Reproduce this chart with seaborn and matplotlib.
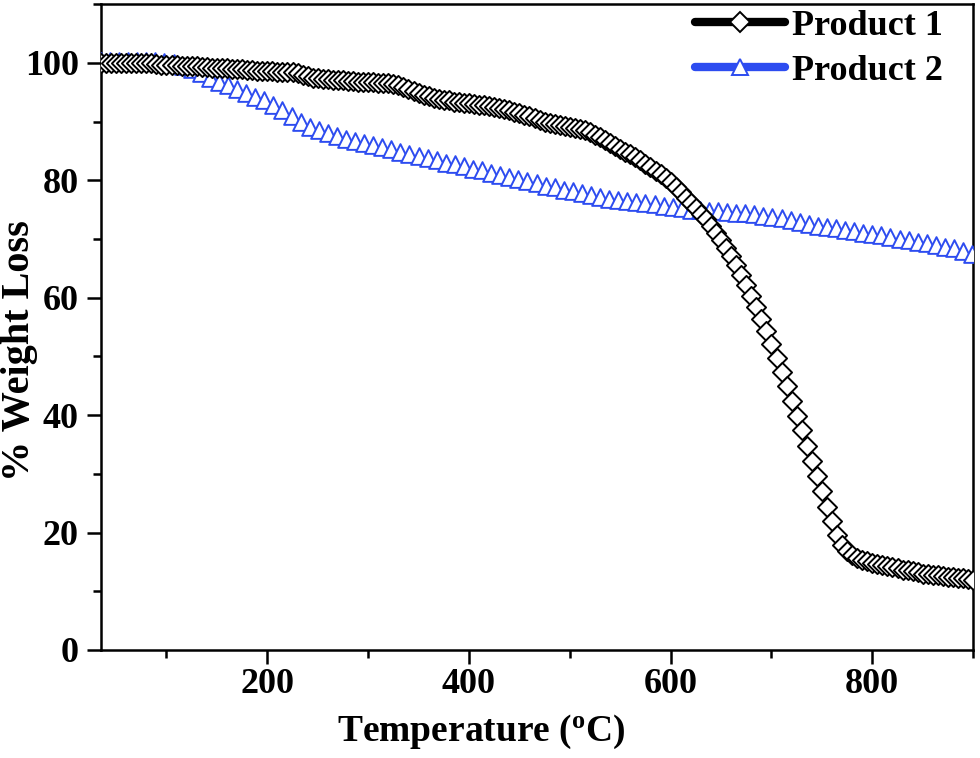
import numpy as np
import pandas as pd
import matplotlib
matplotlib.use("Agg")
import matplotlib.pyplot as plt
from matplotlib.lines import Line2D
from matplotlib.ticker import MultipleLocator
import seaborn as sns

# ---------------- data ----------------
temp1 = list(range(35, 901, 5))
weight1 = [
    100.0, 100.0, 100.0, 100.0, 100.0, 100.0, 100.0, 100.0, 100.0, 99.9, 99.9, 99.8, 99.7, 99.7,
    99.6, 99.6, 99.5, 99.5, 99.4, 99.4, 99.3, 99.3, 99.2, 99.2, 99.1, 99.1, 99.0, 98.9, 98.9, 98.8, 98.8, 98.7, 98.7, 98.6,
    98.6, 98.5, 98.5, 98.4, 98.4, 98.2, 97.9, 97.7, 97.5, 97.4, 97.3, 97.2, 97.1, 97.0, 97.0, 96.9, 96.9, 96.8, 96.8, 96.7,
    96.7, 96.6, 96.6, 96.5, 96.4, 96.2, 95.9, 95.6, 95.2, 94.9, 94.6, 94.3, 94.1, 93.9, 93.7, 93.6, 93.4, 93.3, 93.2, 93.1,
    93.0, 92.9, 92.8, 92.6, 92.5, 92.3, 92.1, 91.9, 91.7, 91.5, 91.2, 90.9, 90.6, 90.3, 90.0, 89.8, 89.6, 89.4, 89.2, 89.1,
    88.9, 88.7, 88.5, 88.2, 87.8, 87.4, 86.9, 86.4, 85.9, 85.4, 84.9, 84.4, 83.9, 83.4, 82.8, 82.2, 81.6, 81.0, 80.4, 79.7,
    78.9, 78.0, 77.0, 76.1, 75.2, 74.3, 73.4, 72.3, 71.1, 69.8, 68.5, 67.1, 65.6, 63.9, 62.1, 60.3, 58.4, 56.4, 54.4, 52.2,
    49.8, 47.3, 44.9, 42.4, 39.9, 37.4, 34.8, 32.2, 29.6, 27.0, 24.4, 21.9, 19.6, 17.9, 16.9, 16.2, 15.7, 15.3, 15.1, 14.9,
    14.7, 14.5, 14.3, 14.1, 13.9, 13.7, 13.6, 13.4, 13.2, 13.0, 12.9, 12.8, 12.7, 12.6, 12.5, 12.4, 12.3, 12.2, 12.1, 12.0,
]

temp2 = list(range(35, 900, 9))
weight2 = [
    100.4, 100.4, 100.4, 100.4, 100.4, 100.4, 100.3, 100.2, 99.9, 99.5,
    98.9, 98.2, 97.5, 96.8, 96.2, 95.5, 94.9, 94.2, 93.6, 92.9,
    92.0, 91.0, 90.0, 89.1, 88.5, 88.0, 87.5, 87.1, 86.7, 86.3,
    86.0, 85.7, 85.3, 84.9, 84.5, 84.2, 83.8, 83.4, 83.0, 82.7,
    82.4, 82.0, 81.7, 81.3, 80.9, 80.6, 80.2, 79.8, 79.5, 79.1,
    78.8, 78.4, 78.1, 77.8, 77.5, 77.2, 76.9, 76.7, 76.5, 76.3,
    76.1, 75.9, 75.7, 75.4, 75.2, 75.0, 74.9, 74.8, 74.7, 74.6,
    74.5, 74.4, 74.2, 74.0, 73.8, 73.5, 73.2, 72.9, 72.6, 72.3,
    72.0, 71.8, 71.5, 71.3, 71.0, 70.8, 70.6, 70.3, 70.0, 69.8,
    69.5, 69.3, 69.0, 68.7, 68.4, 68.0, 67.5,
]

series_names = ["Product 1", "Product 2"]
x_ticks = [200, 400, 600, 800]
y_ticks = [0, 20, 40, 60, 80, 100]

assert len(temp1) == len(weight1)
assert len(temp2) == len(weight2)

# ---------------- style ----------------
sns.set_style("ticks")
plt.rcParams["font.family"] = ["Liberation Serif", "DejaVu Serif"]
plt.rcParams["font.weight"] = "bold"
plt.rcParams["mathtext.fontset"] = "custom"
plt.rcParams["mathtext.rm"] = "Liberation Serif:bold"
plt.rcParams["mathtext.bf"] = "Liberation Serif:bold"
plt.rcParams["mathtext.it"] = "Liberation Serif:bold:italic"
for key in ["text.color", "axes.labelcolor", "xtick.color", "ytick.color", "axes.edgecolor"]:
    plt.rcParams[key] = "black"

BLACK = "#000000"
BLUE = "#2d4cf0"

fig = plt.figure(figsize=(9.8, 7.58), dpi=100)
ax = fig.add_axes([0.103, 0.1425, 0.890, 0.852])

df1 = pd.DataFrame({"T": temp1, "W": weight1})
df2 = pd.DataFrame({"T": temp2, "W": weight2})

sns.scatterplot(data=df2, x="T", y="W", ax=ax, marker="^", s=145,
                facecolor="white", edgecolor=BLUE, linewidth=1.4, zorder=3)
sns.scatterplot(data=df1, x="T", y="W", ax=ax, marker="D", s=95,
                facecolor="white", edgecolor=BLACK, linewidth=1.4, zorder=4)

ax.set_xlim(35, 900)
ax.set_ylim(0, 110)
ax.set_xticks(x_ticks)
ax.set_yticks(y_ticks)
ax.xaxis.set_minor_locator(MultipleLocator(100))
ax.yaxis.set_minor_locator(MultipleLocator(10))

ax.tick_params(axis="both", which="major", direction="out", length=10, width=1.8,
               labelsize=26, labelcolor="black")
ax.tick_params(axis="x", which="major", pad=3)
ax.tick_params(axis="y", which="major", pad=6)
ax.tick_params(axis="both", which="minor", direction="out", length=6, width=1.8)
ax.tick_params(top=False, right=False, which="both")
for lab in ax.get_xticklabels() + ax.get_yticklabels():
    lab.set_fontweight("bold")

for sp in ax.spines.values():
    sp.set_visible(True)
    sp.set_linewidth(1.8)
    sp.set_color("black")

ax.set_xlabel(r"Temperature ($\mathrm{^{o}}$C)", fontsize=27, fontweight="bold")
ax.set_ylabel("% Weight Loss", fontsize=29, fontweight="bold")
ax.xaxis.set_label_coords(0.436, -0.097)
ax.yaxis.set_label_coords(-0.072, 0.463)

handles = [
    Line2D([0], [0], color=BLACK, lw=6, marker="D", markersize=10,
           markerfacecolor="white", markeredgecolor=BLACK, markeredgewidth=1.4,
           solid_capstyle="round"),
    Line2D([0], [0], color=BLUE, lw=6, marker="^", markersize=12,
           markerfacecolor="white", markeredgecolor=BLUE, markeredgewidth=1.4,
           solid_capstyle="round"),
]
leg = ax.legend(handles, series_names, loc="upper right",
                bbox_to_anchor=(0.972, 1.0), frameon=False,
                prop={"family": "Liberation Serif", "weight": "bold", "size": 26},
                handlelength=2.5, handletextpad=0.2, labelspacing=0.32,
                borderaxespad=0.0, borderpad=0.15)

fig.savefig("out.png", dpi=100)
